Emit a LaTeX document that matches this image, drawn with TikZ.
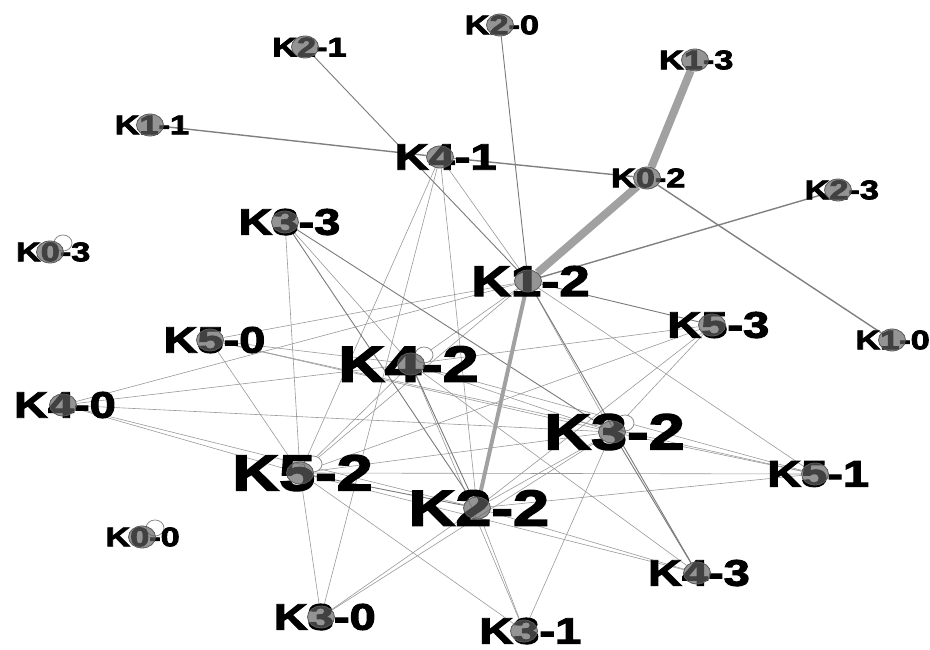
\documentclass[tikz,border=0pt]{standalone}
\usepackage{fontspec}
\newfontfamily\labfont[FakeBold=2.5]{Liberation Sans Bold}
\usetikzlibrary{shapes.geometric}
\pgfdeclarelayer{edgelayer}
\pgfdeclarelayer{dotlayer}
\pgfsetlayers{edgelayer,main,dotlayer}

\begin{document}
\begin{tikzpicture}[x=1pt,y=-1pt,
  vert/.style={ellipse, minimum width=27pt, minimum height=22pt, inner sep=0pt,
    draw=black!65, line width=0.8pt, fill=black!62, fill opacity=0.68},
  selfloop/.style={draw=black!45, line width=0.8pt, fill=white},
  lab/.style={inner sep=0pt, xscale=1.27, text=black},
  labS/.style={lab, font=\labfont\fontsize{27pt}{27pt}\selectfont},
  labM/.style={lab, font=\labfont\fontsize{37pt}{37pt}\selectfont},
  labL/.style={lab, font=\labfont\fontsize{43pt}{43pt}\selectfont},
  labX/.style={lab, font=\labfont\fontsize{51pt}{51pt}\selectfont},
  ethin/.style={draw=black!40, line width=0.6pt},
  emid/.style={draw=black!52, line width=0.9pt},
  estrong/.style={draw=black!50, line width=1.4pt},
  eheavy/.style={draw=black!37, line width=8pt},
  ebold/.style={draw=black!37, line width=4pt}]

\useasboundingbox (0,0) rectangle (930,650);

% vertices
\begin{pgfonlayer}{dotlayer}
\node[vert] (k21) at (305,47) {};
\node[vert] (k20) at (500,25) {};
\node[vert] (k13) at (695,60) {};
\node[vert] (k11) at (150,125) {};
\node[vert] (k41) at (440,157) {};
\node[vert] (k02) at (647,178) {};
\node[vert] (k23) at (838,190) {};
\node[vert] (k33) at (285,222) {};
\node[vert] (k03) at (50,252) {};
\node[vert] (k12) at (528,281) {};
\node[vert] (k53) at (712,325) {};
\node[vert] (k50) at (210,340) {};
\node[vert] (k10) at (892,340) {};
\node[vert] (k42) at (411,364) {};
\node[vert] (k40) at (63,405) {};
\node[vert] (k32) at (612,432) {};
\node[vert] (k51) at (815,474) {};
\node[vert] (k52) at (300,473) {};
\node[vert] (k22) at (477,508) {};
\node[vert] (k00) at (142,537) {};
\node[vert] (k43) at (697,573) {};
\node[vert] (k30) at (321,617) {};
\node[vert] (k31) at (524,631) {};
\end{pgfonlayer}

% connections
\begin{pgfonlayer}{edgelayer}
\foreach \a/\b in {k12/k50, k12/k40, k12/k42, k12/k52, k12/k32, k12/k51, k12/k41,
    k33/k52, k33/k42, k50/k42, k50/k52, k50/k32, k50/k51,
    k40/k42, k40/k32, k40/k52, k40/k22,
    k42/k52, k42/k51, k42/k53, k42/k32, k42/k31, k42/k43,
    k52/k41, k52/k32, k52/k51, k52/k30, k52/k31, k52/k53, k52/k43,
    k22/k41, k22/k32, k22/k30, k22/k31, k22/k51, k22/k43, k22/k53,
    k32/k53, k32/k30, k32/k31, k32/k51, k41/k30}
  \draw[ethin] (\a) -- (\b);
\foreach \a/\b in {k21/k12, k20/k12, k12/k53, k33/k22, k33/k32, k32/k43,
    k12/k43, k42/k22, k52/k22}
  \draw[emid] (\a) -- (\b);
\foreach \a/\b in {k11/k41, k41/k02, k23/k12, k02/k10}
  \draw[estrong] (\a) -- (\b);
\draw[eheavy] (k13) -- (k02);
\draw[eheavy] (k02) -- (k12);
\draw[ebold] (k12) -- (k22);
\end{pgfonlayer}

% self-loops
\foreach \v in {k03, k00, k42, k52, k32}
  \draw[selfloop] ([shift={(13,-9)}]\v.center) circle[x radius=9pt, y radius=8pt];

% labels
\node[labS, xshift=3.5pt] (t21) at (k21.center) {K2-1};
\node[labS, xshift=1.5pt] (t20) at (k20.center) {K2-0};
\node[labS, xshift=1pt]   (t13) at (k13.center) {K1-3};
\node[labS, xshift=1.5pt] (t11) at (k11.center) {K1-1};
\node[labM, xshift=4.5pt] (t41) at (k41.center) {K4-1};
\node[labS, xshift=1pt]   (t02) at (k02.center) {K0-2};
\node[labS, xshift=3pt]   (t23) at (k23.center) {K2-3};
\node[labM, xshift=3.5pt] (t33) at (k33.center) {K3-3};
\node[labS, xshift=2.5pt] (t03) at (k03.center) {K0-3};
\node[labL, xshift=2pt]   (t12) at (k12.center) {K1-2};
\node[labM, xshift=5pt]   (t53) at (k53.center) {K5-3};
\node[labM, xshift=3.5pt] (t50) at (k50.center) {K5-0};
\node[labS, xshift=0.5pt] (t10) at (k10.center) {K1-0};
\node[labX, xshift=-2pt]  (t42) at (k42.center) {K4-2};
\node[labM, xshift=1.5pt] (t40) at (k40.center) {K4-0};
\node[labX, xshift=2pt]   (t32) at (k32.center) {K3-2};
\node[labM, xshift=2.5pt] (t51) at (k51.center) {K5-1};
\node[labX, xshift=2pt]   (t52) at (k52.center) {K5-2};
\node[labX, xshift=1.5pt] (t22) at (k22.center) {K2-2};
\node[labS, xshift=0.5pt] (t00) at (k00.center) {K0-0};
\node[labM, xshift=1.5pt] (t43) at (k43.center) {K4-3};
\node[labM, xshift=3pt]   (t30) at (k30.center) {K3-0};
\node[labM, xshift=5pt]   (t31) at (k31.center) {K3-1};
\end{tikzpicture}
\end{document}
